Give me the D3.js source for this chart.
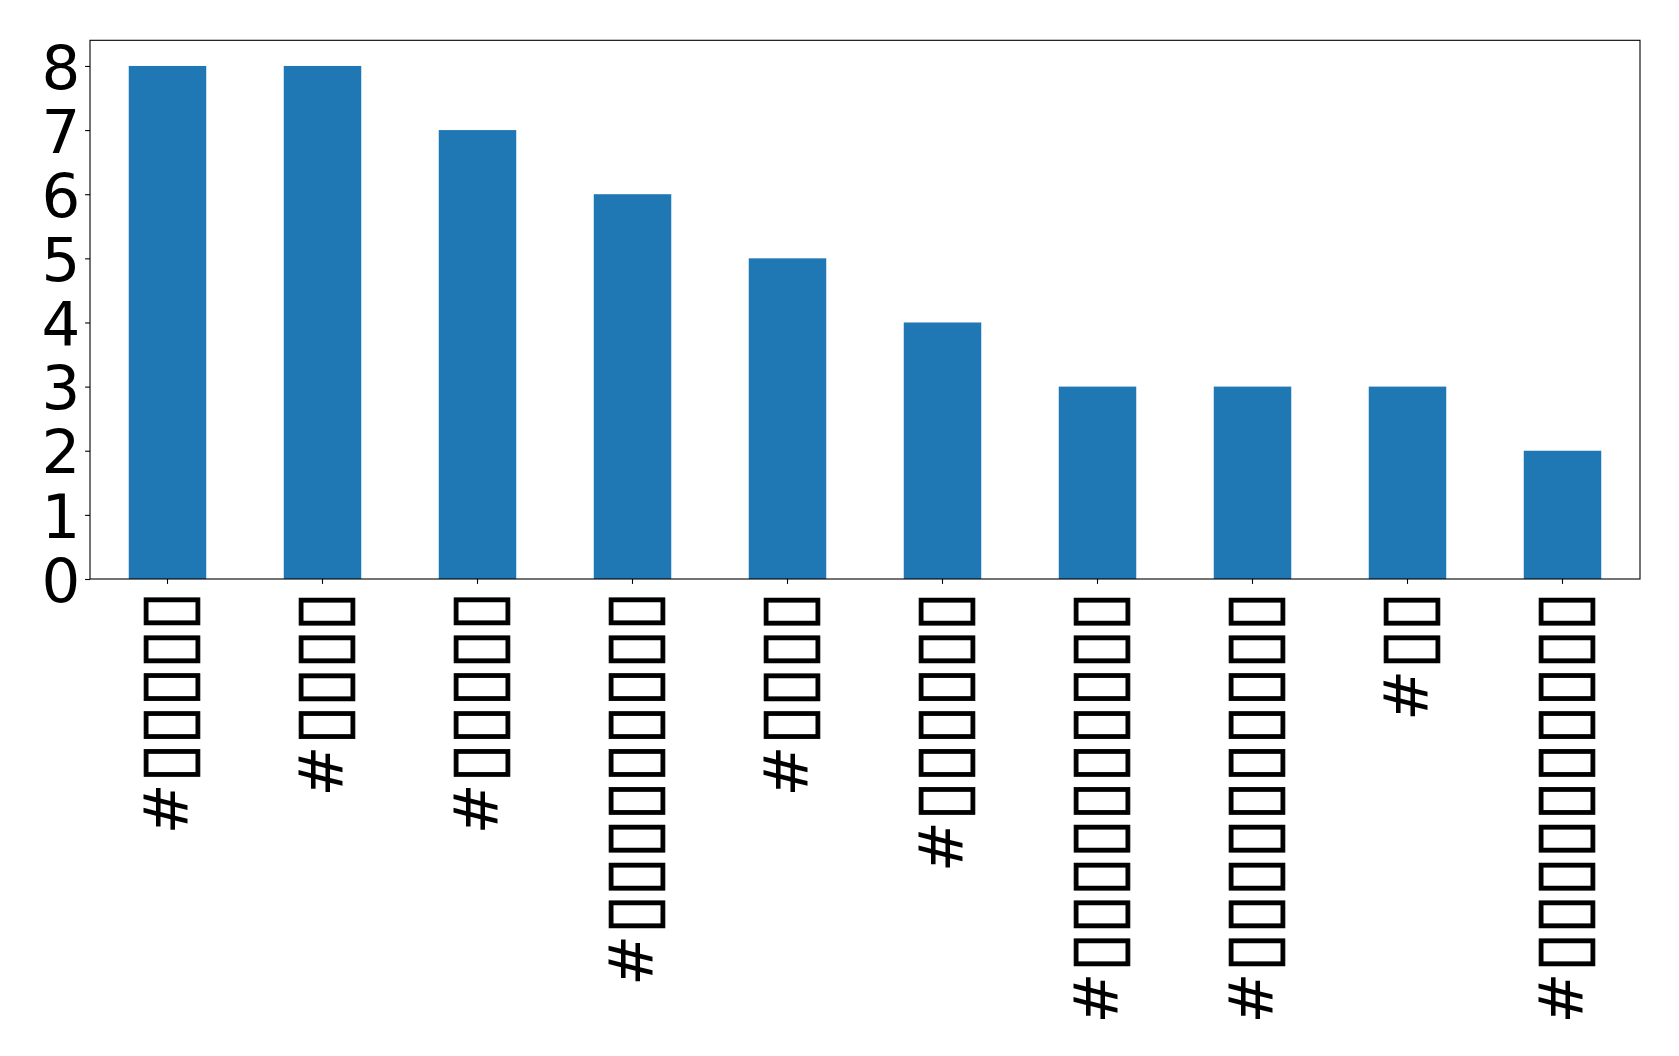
<!DOCTYPE html>
<html>
<head>
<meta charset="utf-8">
<script src="https://cdn.jsdelivr.net/npm/d3@7"></script>
<style>
  html, body { margin: 0; padding: 0; background: #fff; }
  svg { display: block; }
</style>
</head>
<body>
<svg id="chart" width="1679" height="1056"></svg>
<script>
// ---- data ----
const categories = [
  "#▯▯▯▯▯",
  "#▯▯▯▯",
  "#▯▯▯▯▯",
  "#▯▯▯▯▯▯▯▯▯",
  "#▯▯▯▯",
  "#▯▯▯▯▯▯",
  "#▯▯▯▯▯▯▯▯▯▯",
  "#▯▯▯▯▯▯▯▯▯▯",
  "#▯▯",
  "#▯▯▯▯▯▯▯▯▯▯"
];
const counts = [8, 8, 7, 6, 5, 4, 3, 3, 3, 2];
const yTicks = [0, 1, 2, 3, 4, 5, 6, 7, 8];

// ---- layout ----
const plot = { left: 90, right: 1640, top: 40.3, bottom: 579 };
const fontSize = 61;
const boxFontSize = 73;
const barColor = "#1f77b4";

const svg = d3.select("#chart");

const x = d3.scaleBand()
  .domain(categories.map((d, i) => i))
  .range([plot.left, plot.right])
  .paddingInner(0.5)
  .paddingOuter(0.25);

const y = d3.scaleLinear()
  .domain([0, 8.4])
  .range([plot.bottom, plot.top]);

// bars
svg.append("g")
  .selectAll("rect")
  .data(counts)
  .join("rect")
  .attr("x", (d, i) => x(i))
  .attr("y", d => y(d))
  .attr("width", x.bandwidth())
  .attr("height", d => y(0) - y(d))
  .attr("fill", barColor);

// y axis
const yAxis = d3.axisLeft(y)
  .tickValues(yTicks)
  .tickFormat(d3.format("d"))
  .tickSize(4.9)
  .tickPadding(4.9);

const gy = svg.append("g")
  .attr("transform", `translate(${plot.left},0)`)
  .call(yAxis);
gy.select(".domain").remove();
gy.selectAll(".tick line").attr("stroke", "#000").attr("stroke-width", 1.1);
gy.selectAll(".tick text")
  .attr("fill", "#000")
  .attr("font-family", "'DejaVu Sans'")
  .attr("font-size", fontSize)
  .attr("dy", null)
  .attr("dominant-baseline", "alphabetic")
  .attr("y", fontSize * 0.364);

// x axis
const xAxis = d3.axisBottom(x)
  .tickFormat(i => categories[i])
  .tickSize(4.9)
  .tickPadding(0);

const gx = svg.append("g")
  .attr("transform", `translate(0,${plot.bottom})`)
  .call(xAxis);
gx.select(".domain").remove();
gx.selectAll(".tick line").attr("stroke", "#000").attr("stroke-width", 1.1);
gx.selectAll(".tick text")
  .attr("fill", "#000")
  .attr("font-family", "'DejaVu Sans'")
  .attr("font-size", fontSize)
  .attr("dy", null)
  .attr("y", null)
  .attr("text-anchor", "end")
  .attr("dominant-baseline", "alphabetic")
  .attr("transform", "translate(19,15) rotate(-90)")
  .each(function(i) {
    const t = d3.select(this);
    const label = categories[i];
    t.text(null);
    t.append("tspan").text(label.slice(0, 1));
    t.append("tspan")
      .attr("font-size", boxFontSize)
      .attr("dy", 4.5)
      .attr("letter-spacing", -2.3)
      .attr("stroke", "#000")
      .attr("stroke-width", 0.7)
      .text(label.slice(1));
  });

// frame
svg.append("rect")
  .attr("x", plot.left)
  .attr("y", plot.top)
  .attr("width", plot.right - plot.left)
  .attr("height", plot.bottom - plot.top)
  .attr("fill", "none")
  .attr("stroke", "#000")
  .attr("stroke-width", 1.1);
</script>
</body>
</html>
